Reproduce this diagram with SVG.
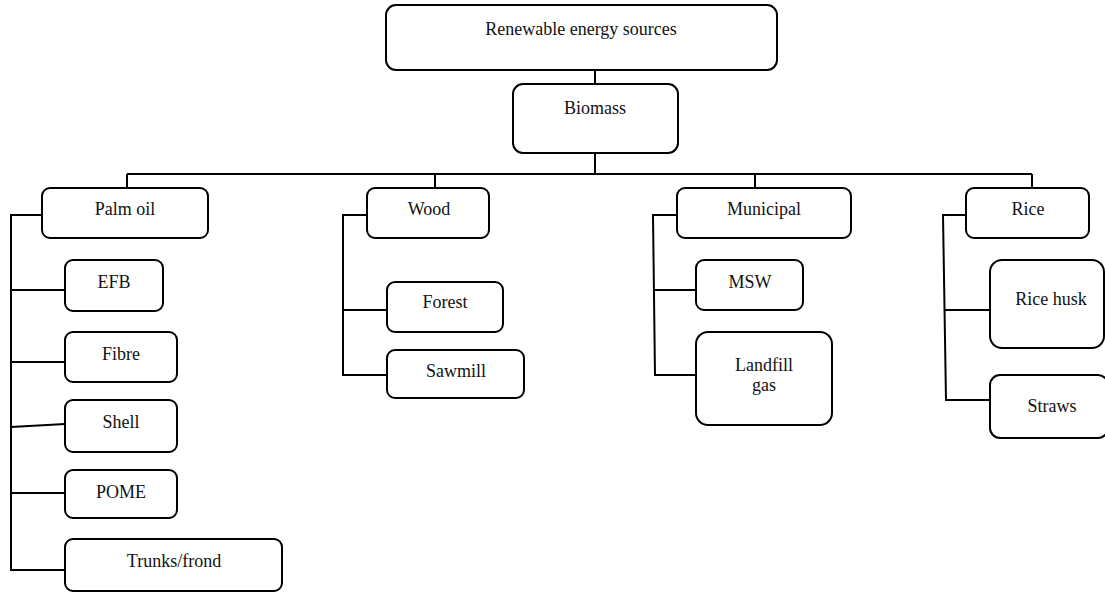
<svg xmlns="http://www.w3.org/2000/svg" width="1105" height="592" viewBox="0 0 1105 592">
<style>
.box{fill:#fff;stroke:#000;stroke-width:2}
.lbl{font-family:"Liberation Serif","Times New Roman",serif;font-size:18px;fill:#111;text-anchor:middle}
.con{fill:none;stroke:#000;stroke-width:2}
</style>
<rect width="1105" height="592" fill="#fff"/>
<g id="connectors" class="con">
<path d="M595 70V84M595 153V174M127 174H1032M127 174V188M435 174V188M755 174V188M1032 174V188"/>
<path d="M42 215H11V570H65M11 290H65M11 362H65M11 427L65 424M11 493H65"/>
<path d="M367 215H343V375H387M343 310H387"/>
<path d="M677 215H653L655 375H696M654 290H696"/>
<path d="M966 215H943L946 400H990M944 310H990"/>
</g>
<g id="n-renewable"><rect class="box" x="386" y="5" width="391" height="65" rx="10"/><text class="lbl" x="581" y="35">Renewable energy sources</text></g>
<g id="n-biomass"><rect class="box" x="513" y="84" width="165" height="69" rx="10"/><text class="lbl" x="595" y="114">Biomass</text></g>
<g id="n-palm"><rect class="box" x="42" y="188" width="166" height="50" rx="8"/><text class="lbl" x="125" y="215">Palm oil</text></g>
<g id="n-efb"><rect class="box" x="65" y="260" width="98" height="51" rx="8"/><text class="lbl" x="114" y="288">EFB</text></g>
<g id="n-fibre"><rect class="box" x="65" y="332" width="112" height="50" rx="8"/><text class="lbl" x="121" y="360">Fibre</text></g>
<g id="n-shell"><rect class="box" x="65" y="400" width="112" height="52" rx="8"/><text class="lbl" x="121" y="428">Shell</text></g>
<g id="n-pome"><rect class="box" x="65" y="470" width="112" height="48" rx="8"/><text class="lbl" x="121" y="498">POME</text></g>
<g id="n-trunks"><rect class="box" x="65" y="539" width="217" height="52" rx="8"/><text class="lbl" x="174" y="567">Trunks/frond</text></g>
<g id="n-wood"><rect class="box" x="367" y="188" width="122" height="50" rx="8"/><text class="lbl" x="429" y="215">Wood</text></g>
<g id="n-forest"><rect class="box" x="387" y="282" width="116" height="50" rx="8"/><text class="lbl" x="445" y="308">Forest</text></g>
<g id="n-sawmill"><rect class="box" x="387" y="350" width="137" height="48" rx="8"/><text class="lbl" x="456" y="377">Sawmill</text></g>
<g id="n-municipal"><rect class="box" x="677" y="188" width="174" height="50" rx="8"/><text class="lbl" x="764" y="215">Municipal</text></g>
<g id="n-msw"><rect class="box" x="696" y="260" width="107" height="50" rx="8"/><text class="lbl" x="750" y="288">MSW</text></g>
<g id="n-landfill"><rect class="box" x="696" y="332" width="136" height="93" rx="12"/><text class="lbl" x="764" y="371">Landfill</text><text class="lbl" x="764" y="391">gas</text></g>
<g id="n-rice"><rect class="box" x="966" y="188" width="123" height="50" rx="8"/><text class="lbl" x="1028" y="215">Rice</text></g>
<g id="n-ricehusk"><rect class="box" x="990" y="260" width="114" height="88" rx="12"/><text class="lbl" x="1051" y="305">Rice husk</text></g>
<g id="n-straws"><rect class="box" x="990" y="375" width="118" height="63" rx="10"/><text class="lbl" x="1052" y="412">Straws</text></g>
</svg>
